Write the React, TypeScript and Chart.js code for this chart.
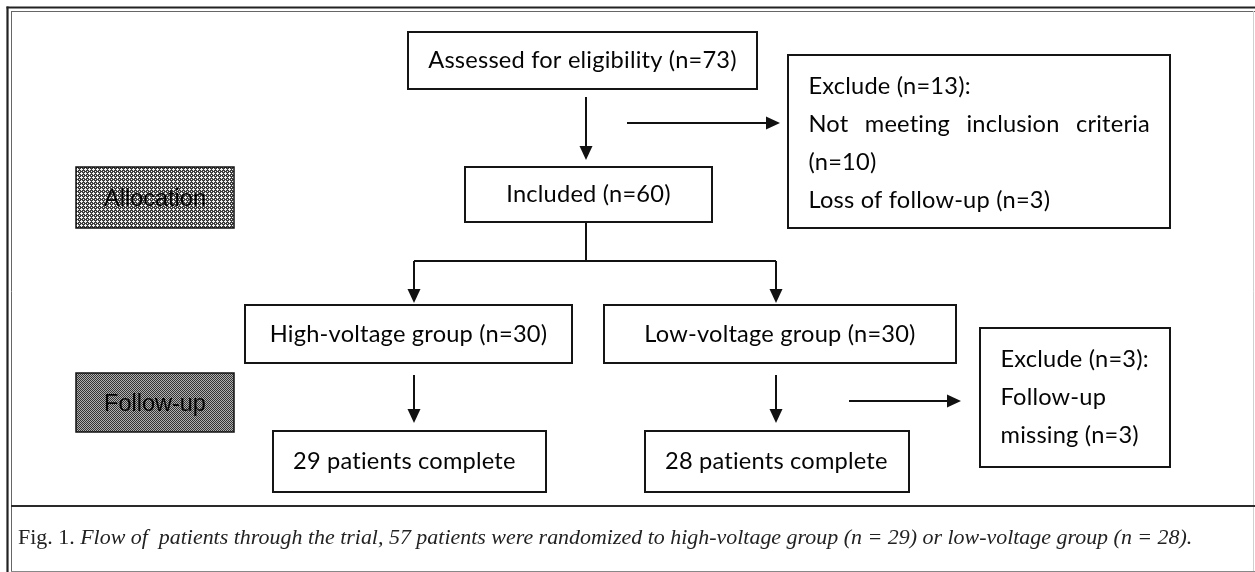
import React, { useEffect, useRef } from "react";
import { Chart, registerables } from "chart.js";

Chart.register(...registerables);

// ---------------- DATA ----------------
const stageLabels = ["Allocation", "Follow-up"];
const assessedN = 73;
const excludedN = 13;
const notMeetingN = 10;
const lossFollowUpN = 3;
const includedN = 60;
const groupNames = ["High-voltage group", "Low-voltage group"];
const groupN = [30, 30];
const completeN = [29, 28];
const followUpMissingN = 3;
const captionLead = "Fig. 1. ";
const captionBody =
  "Flow of  patients through the trial, 57 patients were randomized to high-voltage group (n = 29) or low-voltage group (n = 28).";

// ---------------- LAYOUT (data units of a 1255 x 572 space) ----------------
const W = 1255;
const H = 572;

type Box = {
  x: number; y: number; w: number; h: number;
  lines: string[];
  align: "center" | "left";
  justify?: number[];
};

const boxes: Box[] = [
  { x: 408, y: 32, w: 349, h: 57, lines: [`Assessed for eligibility (n=${assessedN})`], align: "center" },
  { x: 465, y: 167, w: 247, h: 55, lines: [`Included (n=${includedN})`], align: "center" },
  {
    x: 788, y: 55, w: 382, h: 173, align: "left", justify: [1],
    lines: [`Exclude (n=${excludedN}):`, "Not meeting inclusion criteria", `(n=${notMeetingN})`, `Loss of follow-up (n=${lossFollowUpN})`],
  },
  { x: 245, y: 305, w: 327, h: 58, lines: [`${groupNames[0]} (n=${groupN[0]})`], align: "center" },
  { x: 604, y: 305, w: 352, h: 58, lines: [`${groupNames[1]} (n=${groupN[1]})`], align: "center" },
  {
    x: 980, y: 328, w: 190, h: 139, align: "left",
    lines: [`Exclude (n=${followUpMissingN}):`, "Follow-up", `missing (n=${followUpMissingN})`],
  },
  { x: 273, y: 431, w: 273, h: 61, lines: [`${completeN[0]} patients complete`], align: "left" },
  { x: 645, y: 431, w: 264, h: 61, lines: [`${completeN[1]} patients complete`], align: "left" },
];

const stageBoxes = [
  { x: 76, y: 167, w: 158, h: 61 },
  { x: 76, y: 373, w: 158, h: 59 },
];

type Conn = { pts: [number, number][]; arrow: boolean };
const connectors: Conn[] = [
  { pts: [[586, 97], [586, 160]], arrow: true },
  { pts: [[627, 123], [780, 123]], arrow: true },
  { pts: [[586, 222], [586, 261]], arrow: false },
  { pts: [[414, 261], [776, 261]], arrow: false },
  { pts: [[414, 261], [414, 303]], arrow: true },
  { pts: [[776, 261], [776, 303]], arrow: true },
  { pts: [[414, 375], [414, 423]], arrow: true },
  { pts: [[776, 375], [776, 423]], arrow: true },
  { pts: [[849, 401], [961, 401]], arrow: true },
];

const ARROW_LEN = 14;
const ARROW_HALF = 6.5;
const BOX_FONT = "Lato";
const BOX_TEXT_REF_WIDTH = 304; // width of the first box's text
const LINE_GAP = 38;

function makePattern(ctx: CanvasRenderingContext2D, kind: number) {
  const t = document.createElement("canvas");
  const c = t.getContext("2d")!;
  if (kind === 0) {
    t.width = 4; t.height = 4;
    c.fillStyle = "#3c3c3c";
    c.fillRect(0, 0, 4, 4);
    c.fillStyle = "#f2f2f2";
    const px = [[1, 0], [0, 1], [1, 1], [2, 1], [1, 2], [3, 3]];
    px.forEach(([a, b]) => c.fillRect(a, b, 1, 1));
  } else {
    t.width = 2; t.height = 2;
    c.fillStyle = "#b0b0b0";
    c.fillRect(0, 0, 2, 2);
    c.fillStyle = "#333";
    c.fillRect(0, 0, 1, 1);
    c.fillRect(1, 1, 1, 1);
  }
  return ctx.createPattern(t, "repeat")!;
}

const flowPlugin = {
  id: "flow",
  beforeDraw(chart: any) {
    const ctx: CanvasRenderingContext2D = chart.ctx;
    const sx = chart.scales.x;
    const sy = chart.scales.y;
    const X = (v: number) => sx.getPixelForValue(v);
    const Y = (v: number) => sy.getPixelForValue(v);
    ctx.save();
    ctx.fillStyle = "#ffffff";
    ctx.fillRect(0, 0, chart.width, chart.height);
    const seg = (x1: number, y1: number, x2: number, y2: number, lw: number, col: string) => {
      ctx.beginPath();
      ctx.lineWidth = lw;
      ctx.strokeStyle = col;
      ctx.moveTo(X(x1), Y(y1));
      ctx.lineTo(X(x2), Y(y2));
      ctx.stroke();
    };
    // double frame
    seg(6.5, 7.5, W, 7.5, 2.2, "#222");
    seg(11, 11.5, W, 11.5, 1, "#666");
    seg(7.5, 6.5, 7.5, H, 2.2, "#222");
    seg(11.5, 11, 11.5, H, 1, "#666");
    seg(1253.5, 11, 1253.5, H, 1, "#d0d0d0");
    seg(11, 506, W, 506, 2.2, "#2a2a2a");
    seg(11, 571.5, W, 571.5, 1, "#888");
    ctx.restore();
  },
  afterDatasetsDraw(chart: any) {
    const ctx: CanvasRenderingContext2D = chart.ctx;
    const sx = chart.scales.x;
    const sy = chart.scales.y;
    const X = (v: number) => sx.getPixelForValue(v);
    const Y = (v: number) => sy.getPixelForValue(v);
    ctx.save();

    // arrowheads
    ctx.fillStyle = "#111";
    connectors.forEach((c) => {
      if (!c.arrow) return;
      const [x1, y1] = c.pts[c.pts.length - 2];
      const [x2, y2] = c.pts[c.pts.length - 1];
      const dx = x2 - x1, dy = y2 - y1;
      const L = Math.hypot(dx, dy);
      const ux = dx / L, uy = dy / L;
      const bx = x2 - ux * ARROW_LEN, by = y2 - uy * ARROW_LEN;
      ctx.beginPath();
      ctx.moveTo(X(x2), Y(y2));
      ctx.lineTo(X(bx - uy * ARROW_HALF), Y(by + ux * ARROW_HALF));
      ctx.lineTo(X(bx + uy * ARROW_HALF), Y(by - ux * ARROW_HALF));
      ctx.closePath();
      ctx.fill();
    });

    // disable ligatures (e.g. "ti") via a tiny letter spacing
    (ctx as any).letterSpacing = "0.2px";

    // font fit
    ctx.font = `100px ${BOX_FONT}`;
    const refW = ctx.measureText(boxes[0].lines[0]).width;
    const fs = (100 * BOX_TEXT_REF_WIDTH) / refW;
    const font = `${fs.toFixed(2)}px ${BOX_FONT}`;

    // boxes
    boxes.forEach((b) => {
      const x0 = X(b.x), y0 = Y(b.y), x1 = X(b.x + b.w), y1 = Y(b.y + b.h);
      ctx.fillStyle = "#fff";
      ctx.fillRect(x0, y0, x1 - x0, y1 - y0);
      ctx.lineWidth = 2;
      ctx.strokeStyle = "#151515";
      ctx.strokeRect(x0, y0, x1 - x0, y1 - y0);
      ctx.fillStyle = "#050505";
      ctx.font = font;
      ctx.textBaseline = "middle";
      if (b.lines.length === 1) {
        const cy = (y0 + y1) / 2;
        if (b.align === "center") {
          ctx.textAlign = "center";
          ctx.fillText(b.lines[0], (x0 + x1) / 2, cy);
        } else {
          ctx.textAlign = "left";
          ctx.fillText(b.lines[0], x0 + 20, cy);
        }
      } else {
        const left = x0 + 20.5;
        const right = x1 - 20;
        b.lines.forEach((ln, i) => {
          const cy = y0 + 31.5 + i * LINE_GAP;
          ctx.textAlign = "left";
          if (b.justify && b.justify.includes(i)) {
            const words = ln.split(" ");
            const ws = words.map((w) => ctx.measureText(w).width);
            const tot = ws.reduce((a, c) => a + c, 0);
            const gap = (right - left - tot) / (words.length - 1);
            let cx = left;
            words.forEach((w, k) => {
              ctx.fillText(w, cx, cy);
              cx += ws[k] + gap;
            });
          } else {
            ctx.fillText(ln, left, cy);
          }
        });
      }
    });

    (ctx as any).letterSpacing = "0px";

    // stage boxes
    stageBoxes.forEach((b, i) => {
      const x0 = X(b.x), y0 = Y(b.y), x1 = X(b.x + b.w), y1 = Y(b.y + b.h);
      ctx.fillStyle = makePattern(ctx, i);
      ctx.fillRect(x0, y0, x1 - x0, y1 - y0);
      ctx.lineWidth = 1.5;
      ctx.strokeStyle = "#111";
      ctx.strokeRect(x0, y0, x1 - x0, y1 - y0);
      ctx.fillStyle = "#050505";
      ctx.font = `23.5px "Liberation Sans", Arial, sans-serif`;
      ctx.textAlign = "center";
      ctx.textBaseline = "middle";
      ctx.fillText(stageLabels[i], (x0 + x1) / 2, (y0 + y1) / 2 + 2);
    });

    // caption
    const capLeft = X(18), capRight = X(1193), capY = Y(538);
    const base = 100;
    ctx.font = `${base}px "Liberation Serif", serif`;
    const wl = ctx.measureText(captionLead).width;
    ctx.font = `italic ${base}px "Liberation Serif", serif`;
    const wb = ctx.measureText(captionBody).width;
    const cfs = (base * (capRight - capLeft)) / (wl + wb);
    ctx.fillStyle = "#222";
    ctx.textAlign = "left";
    ctx.textBaseline = "middle";
    ctx.font = `${cfs.toFixed(2)}px "Liberation Serif", serif`;
    ctx.fillText(captionLead, capLeft, capY);
    const lw = ctx.measureText(captionLead).width;
    ctx.font = `italic ${cfs.toFixed(2)}px "Liberation Serif", serif`;
    ctx.fillText(captionBody, capLeft + lw, capY);

    ctx.restore();
  },
};

export default function App() {
  const ref = useRef<HTMLCanvasElement | null>(null);
  useEffect(() => {
    if (!ref.current) return;
    const datasets = connectors.map((c) => {
      const pts = c.pts.map(([x, y]) => ({ x, y }));
      if (c.arrow) {
        const a = pts[pts.length - 2];
        const b = pts[pts.length - 1];
        const L = Math.hypot(b.x - a.x, b.y - a.y);
        const k = (ARROW_LEN - 4) / L;
        pts[pts.length - 1] = { x: b.x - (b.x - a.x) * k, y: b.y - (b.y - a.y) * k };
      }
      return {
        data: pts,
        showLine: true,
        borderColor: "#111",
        borderWidth: 2,
        pointRadius: 0,
        fill: false,
        tension: 0,
        borderCapStyle: "butt" as const,
      };
    });
    const chart = new Chart(ref.current, {
      type: "scatter",
      data: { datasets },
      options: {
        animation: false,
        responsive: false,
        devicePixelRatio: 1,
        layout: { padding: 0 },
        events: [],
        plugins: { legend: { display: false }, tooltip: { enabled: false }, title: { display: false } },
        scales: {
          x: { type: "linear", min: 0, max: W, display: false },
          y: { type: "linear", min: 0, max: H, reverse: true, display: false },
        },
      },
      plugins: [flowPlugin],
    });
    return () => chart.destroy();
  }, []);
  return (
    <div style={{ position: "fixed", left: 0, top: 0, width: W, height: H, background: "#fff" }}>
      <canvas ref={ref} width={W} height={H} style={{ display: "block" }} />
    </div>
  );
}
